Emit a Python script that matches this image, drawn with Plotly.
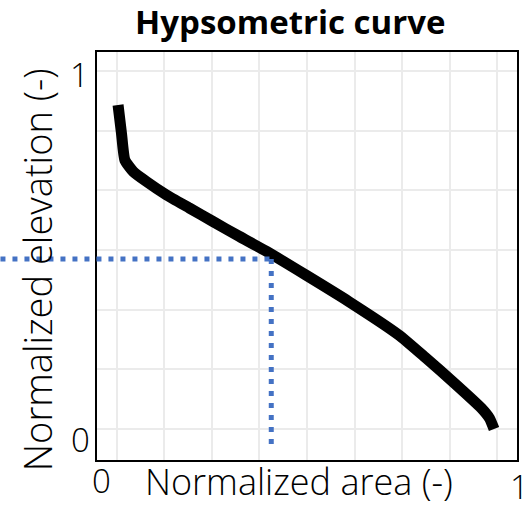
import plotly.graph_objects as go

# ---- data ----
area = [0.003, 0.012, 0.021, 0.043, 0.078, 0.130, 0.191, 0.252, 0.322, 0.392,
        0.497, 0.610, 0.741, 0.811, 0.889, 0.959, 0.980, 0.992]
elevation = [0.905, 0.826, 0.751, 0.719, 0.691, 0.654, 0.617, 0.580, 0.538, 0.497,
             0.430, 0.356, 0.263, 0.200, 0.127, 0.058, 0.030, 0.000]
ref_point = [0.406, 0.475]          # (area, elevation) marked with dotted lines
x_tick_labels = ["0", "1"]
y_tick_labels = ["0", "1"]
title_text = "Hypsometric curve"
x_title = "Normalized area (-)"
y_title = "Normalized elevation (-)"

# ---- layout geometry ----
W, H = 524, 505
ML, MR, MT, MB = 97, 5, 52, 45
PW, PH = W - ML - MR, H - MT - MB
XR = [-0.0524, 1.0524]
YR = [-0.0866, 1.0531]


def px_x(px):
    return (px - ML) / PW


def px_y(py):
    return (H - MB - py) / PH


def data_to_paper_x(v):
    return (v - XR[0]) / (XR[1] - XR[0])


def data_to_paper_y(v):
    return (v - YR[0]) / (YR[1] - YR[0])


FONT = "Open Sans"
fig = go.Figure()
fig.add_trace(go.Scatter(x=area, y=elevation, mode="lines",
                         line=dict(color="black", width=11, shape="spline", smoothing=0.5),
                         showlegend=False, hoverinfo="skip"))

blue = "#4472C4"
rx, ry = ref_point
fig.add_shape(type="line", xref="paper", yref="paper",
              x0=-ML / PW, x1=data_to_paper_x(rx),
              y0=data_to_paper_y(ry), y1=data_to_paper_y(ry),
              line=dict(color=blue, width=5, dash="5px,7px"), layer="above")
fig.add_shape(type="line", xref="paper", yref="paper",
              x0=data_to_paper_x(rx), x1=data_to_paper_x(rx),
              y0=data_to_paper_y(ry), y1=data_to_paper_y(-0.052),
              line=dict(color=blue, width=5, dash="5px,7px"), layer="above")

ann = []
# title
ann.append(dict(text="<b>%s</b>" % title_text, x=px_x(291), y=px_y(21),
                xref="paper", yref="paper", showarrow=False,
                xanchor="center", yanchor="middle",
                font=dict(family=FONT, size=33, color="black")))
# axis titles
ann.append(dict(text=x_title, x=px_x(300), y=px_y(481),
                xref="paper", yref="paper", showarrow=False,
                xanchor="center", yanchor="middle",
                font=dict(family=FONT, size=36, color="black", weight=300)))
ann.append(dict(text=y_title, x=px_x(37), y=px_y(270), textangle=-90,
                xref="paper", yref="paper", showarrow=False,
                xanchor="center", yanchor="middle",
                font=dict(family=FONT, size=38, color="black", weight=300)))
# tick labels
for lab, (cx, cy) in zip(x_tick_labels, [(102, 480), (522, 486)]):
    ann.append(dict(text=lab, x=px_x(cx), y=px_y(cy), xref="paper", yref="paper",
                    showarrow=False, xanchor="center", yanchor="middle",
                    font=dict(family=FONT, size=33, color="black", weight=300)))
for lab, (cx, cy) in zip(y_tick_labels, [(80, 439), (79, 74)]):
    ann.append(dict(text=lab, x=px_x(cx), y=px_y(cy), xref="paper", yref="paper",
                    showarrow=False, xanchor="center", yanchor="middle",
                    font=dict(family=FONT, size=33, color="black", weight=300)))

fig.update_layout(
    width=W, height=H,
    margin=dict(l=ML, r=MR, t=MT, b=MB),
    paper_bgcolor="white", plot_bgcolor="white",
    annotations=ann,
    xaxis=dict(range=XR, tick0=0, dtick=0.125, showgrid=True, gridcolor="#EBEBEB",
               gridwidth=2, zeroline=False, showticklabels=False, ticks="",
               showline=True, linecolor="black", linewidth=2, mirror=True),
    yaxis=dict(range=YR, tick0=0, dtick=1 / 6, showgrid=True, gridcolor="#EBEBEB",
               gridwidth=2, zeroline=False, showticklabels=False, ticks="",
               showline=True, linecolor="black", linewidth=2, mirror=True),
)

fig.write_html("out.html")
